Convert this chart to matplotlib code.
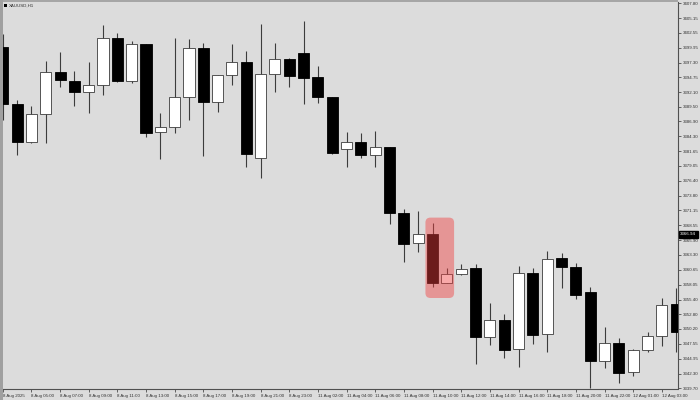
import matplotlib
matplotlib.use("Agg")
import matplotlib.pyplot as plt
from matplotlib.patches import Rectangle, FancyBboxPatch
from matplotlib.transforms import blended_transform_factory

# ---------------- data ----------------
title = "XAUUSD,H1"

opens = [3400.12, 3389.99, 3383.21, 3388.17, 3395.65, 3394.11, 3392.06, 3393.30,
         3401.61, 3394.06, 3400.55, 3384.98, 3385.92, 3391.23, 3399.89, 3390.34,
         3395.07, 3397.42, 3380.44, 3395.29, 3398.00, 3399.01, 3394.71, 3391.17,
         3382.08, 3383.27, 3380.91, 3382.33, 3370.76, 3365.35, 3366.94, 3358.38,
         3359.87, 3360.98, 3348.72, 3351.84, 3346.60, 3360.04, 3349.25, 3362.70,
         3361.16, 3356.79, 3344.58, 3347.71, 3342.53, 3346.42, 3348.90, 3354.61]
highs = [3402.37, 3390.70, 3389.63, 3397.59, 3399.13, 3395.83, 3397.36, 3404.02,
         3402.49, 3401.19, 3400.60, 3388.34, 3401.61, 3401.43, 3400.83, 3395.15,
         3400.60, 3399.42, 3404.09, 3400.83, 3398.05, 3404.72, 3396.76, 3391.25,
         3385.09, 3384.91, 3385.21, 3382.40, 3371.42, 3371.01, 3368.89, 3361.03,
         3361.63, 3361.63, 3354.74, 3352.79, 3361.33, 3361.03, 3364.04, 3363.69,
         3361.92, 3357.67, 3350.60, 3348.54, 3346.60, 3349.61, 3355.62, 3357.44]
lows = [3387.16, 3380.97, 3383.15, 3383.04, 3392.94, 3389.63, 3388.45, 3391.53,
        3393.95, 3393.76, 3384.20, 3380.26, 3384.81, 3387.16, 3380.84, 3388.57,
        3393.35, 3378.90, 3376.85, 3392.16, 3392.94, 3389.93, 3390.11, 3381.20,
        3378.90, 3380.49, 3378.90, 3368.71, 3362.09, 3363.86, 3357.67, 3358.30,
        3359.80, 3343.95, 3347.36, 3345.01, 3343.52, 3347.54, 3346.18, 3357.39,
        3355.50, 3339.70, 3343.24, 3340.69, 3341.93, 3346.18, 3347.24, 3346.12]
closes = [3389.94, 3383.27, 3388.17, 3395.70, 3394.18, 3392.11, 3393.40, 3401.61,
          3394.06, 3400.55, 3384.81, 3385.87, 3391.28, 3399.89, 3390.34, 3395.07,
          3397.42, 3381.14, 3395.24, 3398.00, 3394.89, 3394.59, 3391.17, 3381.37,
          3383.21, 3380.91, 3382.33, 3370.76, 3365.17, 3366.94, 3358.27, 3359.97,
          3360.75, 3348.72, 3351.84, 3346.48, 3360.04, 3349.13, 3362.62, 3361.16,
          3356.20, 3344.58, 3347.71, 3342.35, 3346.53, 3348.90, 3354.38, 3349.66]

x_tick_labels = ["8 Aug 2025", "8 Aug 05:00", "8 Aug 07:00", "8 Aug 09:00",
                 "8 Aug 11:00", "8 Aug 13:00", "8 Aug 15:00", "8 Aug 17:00",
                 "8 Aug 19:00", "8 Aug 21:00", "8 Aug 23:00", "11 Aug 02:00",
                 "11 Aug 04:00", "11 Aug 06:00", "11 Aug 08:00", "11 Aug 10:00",
                 "11 Aug 12:00", "11 Aug 14:00", "11 Aug 16:00", "11 Aug 18:00",
                 "11 Aug 20:00", "11 Aug 22:00", "12 Aug 01:00", "12 Aug 03:00"]

y_tick_labels = ["3407.80", "3405.15", "3402.55", "3399.95", "3397.30", "3394.75",
                 "3392.10", "3389.50", "3386.90", "3384.30", "3381.65", "3379.05",
                 "3376.40", "3373.80", "3371.15", "3368.55", "3365.90", "3363.30",
                 "3360.65", "3358.05", "3355.40", "3352.80", "3350.20", "3347.55",
                 "3344.95", "3342.30", "3339.70"]

price_line = 3366.94
price_label = "3366.94"
highlight_bars = [30, 31]

# ---------------- style ----------------
BG = "#dcdcdc"
W, H = 700, 400
FS = 3.2
FONT = "Liberation Sans"

fig = plt.figure(figsize=(7, 4), dpi=100, facecolor=BG)
ax_left, ax_right, ax_top, ax_bottom = 2.7, 678.3, 2.0, 388.5
ax = fig.add_axes([ax_left / W, (H - ax_bottom) / H,
                   (ax_right - ax_left) / W, (ax_bottom - ax_top) / H])
ax.set_facecolor(BG)

n = len(opens)
xs = list(range(n))
body_lo = [min(o, c) for o, c in zip(opens, closes)]
body_h = [abs(c - o) for o, c in zip(opens, closes)]
fills = ["white" if c >= o else "black" for o, c in zip(opens, closes)]
edges = ["#3c3c3c" if c >= o else "black" for o, c in zip(opens, closes)]

ax.vlines(xs, lows, highs, colors="#3c3c3c", linewidth=0.8, zorder=2)
ax.bar(xs, body_h, bottom=body_lo, width=0.77, color=fills,
       edgecolor=edges, linewidth=0.6, zorder=3)

# highlight box over the two bars
hx0 = min(highlight_bars) - 0.5
hx1 = max(highlight_bars) + 0.5
hy_top = max(highs[i] for i in highlight_bars) + 1.0
hy_bot = min(lows[i] for i in highlight_bars) - 2.0
hl = FancyBboxPatch((hx0, hy_bot), hx1 - hx0, hy_top - hy_bot,
                    boxstyle="round,pad=0,rounding_size=0.35",
                    mutation_aspect=2.535,
                    facecolor=(240 / 255, 64 / 255, 64 / 255, 0.45),
                    edgecolor="none", zorder=5)
ax.add_patch(hl)

ax.set_xlim(0, (ax_right - ax_left) / 14.33)
ax.set_ylim(3339.66, 3408.03)

# axes spines
for s in ["top", "left"]:
    ax.spines[s].set_visible(False)
for s in ["right", "bottom"]:
    ax.spines[s].set_color("#505050")
    ax.spines[s].set_linewidth(0.8)

# y ticks on the right
ax.yaxis.tick_right()
ax.set_yticks([float(v) for v in y_tick_labels])
ax.set_yticklabels(y_tick_labels, fontsize=FS, family=FONT, color="#202020")
ax.tick_params(axis="y", direction="out", length=2, width=0.5, pad=1.2,
               colors="#303030")

# x ticks
ax.set_xticks(xs[::2])
ax.set_xticklabels(x_tick_labels, fontsize=FS, family=FONT, color="#202020")
for lbl in ax.get_xticklabels():
    lbl.set_horizontalalignment("left")
ax.tick_params(axis="x", direction="out", length=2.5, width=0.5, pad=1.5,
               colors="#303030")

# price label on the right axis
tr = blended_transform_factory(ax.transAxes, ax.transData)
ax.text(1.003, price_line, price_label, transform=tr, fontsize=FS, family=FONT,
        color="white", va="center", ha="left", clip_on=False,
        bbox=dict(boxstyle="square,pad=0.35", facecolor="black", edgecolor="black"))

# window decorations
fig.patches.append(Rectangle((0, 1 - 2 / H), 678 / W, 2 / H, transform=fig.transFigure,
                             facecolor="#a6a6a6", edgecolor="none", zorder=10))
fig.patches.append(Rectangle((0, 0), 2.5 / W, 1, transform=fig.transFigure,
                             facecolor="#a0a0a0", edgecolor="none", zorder=10))
fig.patches.append(Rectangle((4 / W, 1 - 7 / H), 3 / W, 3 / H, transform=fig.transFigure,
                             facecolor="black", edgecolor="none", zorder=10))
fig.text(8.5 / W, 1 - 5.5 / H, title, fontsize=FS, family=FONT, color="#303030",
         va="center", ha="left")

fig.savefig("out.png", dpi=100, facecolor=BG)
